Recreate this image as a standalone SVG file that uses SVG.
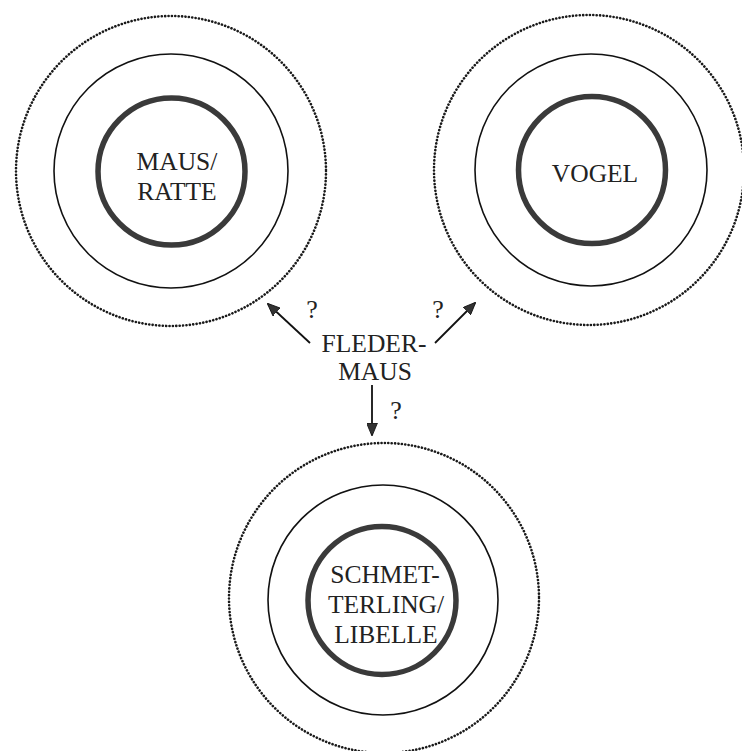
<svg xmlns="http://www.w3.org/2000/svg" width="742" height="751" viewBox="0 0 742 751">
<style>
.dot{fill:none;stroke:#1a1a1a;stroke-width:2.6;stroke-dasharray:0.1 3.3;stroke-linecap:round}
.mid{fill:none;stroke:#111;stroke-width:1.6}
.core{fill:none;stroke:#3a3a3a;stroke-width:5.5}
.lbl{font-size:25.5px;fill:#222;text-anchor:middle}
.q{font-size:26px;fill:#222;text-anchor:middle}
.arr{stroke:#111;stroke-width:1.8;fill:none;marker-end:url(#ah)}
</style>
<defs>
<marker id="ah" viewBox="0 0 12 10" refX="11" refY="5" markerWidth="13" markerHeight="11" markerUnits="userSpaceOnUse" orient="auto">
<path d="M0,0 L12,5 L0,10 Z" fill="#333" stroke="#111" stroke-width="0.8"/>
</marker>
</defs>
<rect width="742" height="751" fill="#fff"/>
<g font-family="Liberation Serif, Times New Roman, DejaVu Serif, serif">
<g id="maus-ratte">
<circle class="dot" cx="171" cy="171" r="155"/>
<circle class="mid" cx="171" cy="171" r="117"/>
<circle class="core" cx="171.5" cy="171.5" r="73.5"/>
<text class="lbl" x="177" y="170">MAUS/</text>
<text class="lbl" x="177" y="200">RATTE</text>
</g>
<g id="vogel">
<circle class="dot" cx="589" cy="170" r="155"/>
<circle class="mid" cx="591" cy="170" r="116"/>
<circle class="core" cx="592" cy="170" r="73.5"/>
<text class="lbl" x="595" y="182">VOGEL</text>
</g>
<g id="schmetterling-libelle">
<circle class="dot" cx="384" cy="598" r="155"/>
<circle class="mid" cx="383" cy="600" r="115"/>
<circle class="core" cx="382" cy="600.5" r="74"/>
<text class="lbl" x="385" y="583">SCHMET-</text>
<text class="lbl" x="386" y="613">TERLING/</text>
<text class="lbl" x="386" y="643">LIBELLE</text>
</g>
<g id="fledermaus">
<text class="lbl" x="374" y="352">FLEDER-</text>
<text class="lbl" x="375" y="380">MAUS</text>
</g>
<g id="connectors">
<line class="arr" x1="310" y1="343" x2="268" y2="304"/>
<line class="arr" x1="435" y1="343" x2="475" y2="303"/>
<line class="arr" x1="372" y1="385" x2="372" y2="435"/>
<text class="q" x="312" y="318">?</text>
<text class="q" x="438" y="318">?</text>
<text class="q" x="396" y="419">?</text>
</g>
</g>
</svg>
